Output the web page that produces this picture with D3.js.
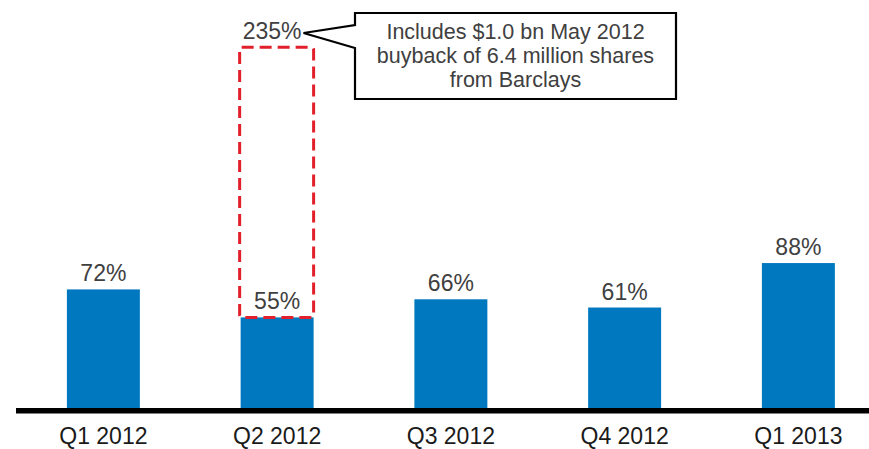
<!DOCTYPE html>
<html>
<head>
<meta charset="utf-8">
<script src="https://cdn.jsdelivr.net/npm/d3@7"></script>
<style>
  body { margin: 0; background: #fff; }
  text { font-family: "Liberation Sans", Arial, sans-serif; }
</style>
</head>
<body>
<div id="chart"></div>
<script>
// data
const quarters = ["Q1 2012", "Q2 2012", "Q3 2012", "Q4 2012", "Q1 2013"];
const payout = [72, 55, 66, 61, 88];

// Q2 incl. the Barclays buyback; the original box is not drawn to scale
const buybackLabel = "235%";
const buybackDrawn = 219;
const calloutLines = ["Includes $1.0 bn May 2012", "buyback of 6.4 million shares", "from Barclays"];

const width = 869, height = 449;

const svg = d3.select("#chart")
  .append("svg")
  .attr("width", width)
  .attr("height", height);

const x = d3.scaleBand()
  .domain(quarters)
  .range([16.5, 885.25])
  .paddingInner(0.58)
  .paddingOuter(0.29);

const y = d3.scaleLinear()
  .domain([0, 100])
  .range([408, 243.3]);

// bars
svg.selectAll("rect.bar")
  .data(payout)
  .enter()
  .append("rect")
  .attr("class", "bar")
  .attr("x", function (d, i) { return x(quarters[i]); })
  .attr("y", function (d) { return y(d); })
  .attr("width", x.bandwidth())
  .attr("height", function (d) { return y(0) - y(d); })
  .style("fill", "#0078c0");

// dashed box for the buyback quarter
const q2 = quarters[1];
svg.append("rect")
  .attr("x", x(q2) - 1)
  .attr("y", y(buybackDrawn))
  .attr("width", x.bandwidth() + 1)
  .attr("height", y(payout[1]) - y(buybackDrawn))
  .attr("rx", 2)
  .style("fill", "none")
  .style("stroke", "#e2202c")
  .style("stroke-width", 3)
  .style("stroke-dasharray", "12,6");

// value labels
svg.selectAll("text.value")
  .data(payout)
  .enter()
  .append("text")
  .attr("class", "value")
  .attr("x", function (d, i) { return x(quarters[i]) + x.bandwidth() / 2; })
  .attr("y", function (d) { return y(d) - 8; })
  .attr("text-anchor", "middle")
  .style("font-size", "23px")
  .style("fill", "#404040")
  .text(function (d) { return d + "%"; });

const topLabel = svg.append("text")
  .attr("x", x(q2) + x.bandwidth() / 2 - 5)
  .attr("y", y(buybackDrawn) - 8)
  .attr("text-anchor", "middle")
  .style("font-size", "23px")
  .style("fill", "#404040")
  .text(buybackLabel);

// baseline
svg.append("line")
  .attr("x1", 16)
  .attr("x2", width)
  .attr("y1", y(0) + 2.8)
  .attr("y2", y(0) + 2.8)
  .style("stroke", "#000")
  .style("stroke-width", 5.5);

// category labels
svg.selectAll("text.cat")
  .data(quarters)
  .enter()
  .append("text")
  .attr("class", "cat")
  .attr("x", function (d) { return x(d) + x.bandwidth() / 2; })
  .attr("y", 443.5)
  .attr("text-anchor", "middle")
  .style("font-size", "23px")
  .style("fill", "#1a1a1a")
  .text(function (d) { return d; });

// callout
const tb = topLabel.node().getBBox();
const tipX = tb.x + tb.width + 2, tipY = 33;
const bx0 = 355, bx1 = 676, by0 = 13, by1 = 99;

svg.append("path")
  .attr("d", `M${bx0},${by0}H${bx1}V${by1}H${bx0}V48L${tipX},${tipY}L${bx0},25Z`)
  .style("fill", "#fff")
  .style("stroke", "#000")
  .style("stroke-width", 2.2)
  .style("stroke-linejoin", "miter");

svg.selectAll("text.note")
  .data(calloutLines)
  .enter()
  .append("text")
  .attr("class", "note")
  .attr("x", (bx0 + bx1) / 2)
  .attr("y", function (d, i) { return 39 + i * 24; })
  .attr("text-anchor", "middle")
  .style("font-size", "21.5px")
  .style("fill", "#404040")
  .text(function (d) { return d; });
</script>
</body>
</html>
